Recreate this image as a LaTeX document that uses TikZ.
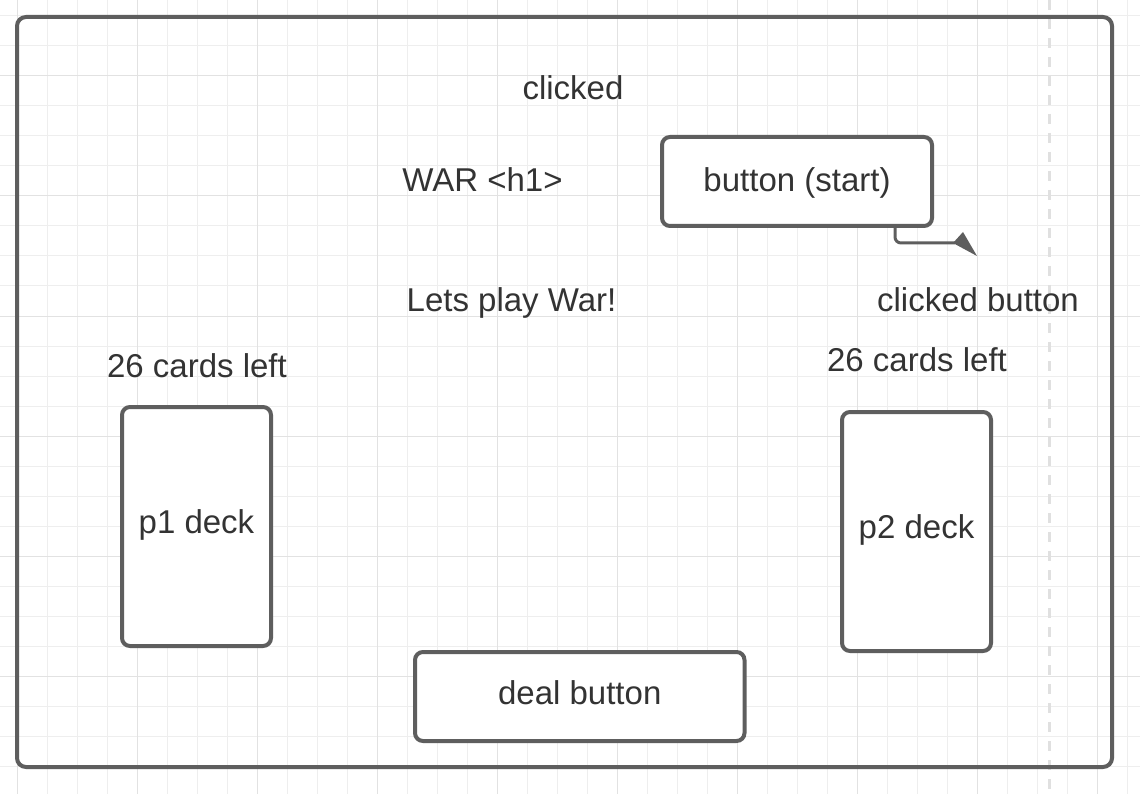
\documentclass[tikz,border=0pt]{standalone}
\usepackage{fontspec}
\setmainfont{Liberation Sans}
\definecolor{framec}{HTML}{5E5E5E}
\definecolor{txtc}{HTML}{333333}
\definecolor{gridminor}{HTML}{EEEEEE}
\definecolor{gridmajor}{HTML}{E2E2E2}
\definecolor{dashc}{HTML}{E0E0E0}
\begin{document}
\begin{tikzpicture}[x=1pt,y=-1pt,
  lbl/.style={anchor=base, text=txtc, font=\fontsize{33}{39}\selectfont, inner sep=0pt},
  uibox/.style={draw=framec, line width=4pt, rounded corners=8pt, fill=white, text=txtc,
    font=\fontsize{33}{39}\selectfont, inner sep=0pt, text height=25pt, text depth=5pt},
  conn/.style={draw=framec, line width=3pt, rounded corners=6pt}
]
\useasboundingbox (0,0) rectangle (1140,794);
\fill[white] (0,0) rectangle (1140,794);
% grid
\foreach \x in {17,47,...,1127} \draw[gridminor, line width=1pt] (\x,0) -- (\x,794);
\foreach \y in {16,46,...,796} \draw[gridminor, line width=1pt] (0,\y) -- (1140,\y);
\foreach \x in {17,137,...,1097} \draw[gridmajor, line width=1pt] (\x,0) -- (\x,794);
\foreach \y in {76,196,...,796} \draw[gridmajor, line width=1pt] (0,\y) -- (1140,\y);
% dashed guide
\draw[dashc, line width=3pt, dash pattern=on 10pt off 9pt] (1049,0) -- (1049,794);
% frame
\node[draw=framec, line width=4pt, rounded corners=9pt, minimum width=1095pt, minimum height=750pt, inner sep=0pt] (screen) at (564.5,392) {};
% boxes
\node[uibox, minimum width=270pt, minimum height=89pt] (btn) at (797,181.5) {button (start)};
\node[uibox, minimum width=329.5pt, minimum height=89pt] (deal) at (579.75,696.5) {\raisebox{2pt}{deal button}};
\node[uibox, minimum width=149pt, minimum height=239pt] (p1) at (196.5,526.5) {\raisebox{3pt}{p1 deck}};
\node[uibox, minimum width=149pt, minimum height=239pt] (p2) at (916.5,531.5) {\raisebox{3pt}{p2 deck}};
% labels
\node[lbl] (clicked) at (573,100) {clicked};
\node[lbl] (war) at (482.5,192) {WAR <h1>};
\node[lbl] (lets) at (511.5,312) {Lets play War!};
\node[lbl] (clkbtn) at (978,312) {clicked button};
\node[lbl] (c1) at (197,377) {26 cards left};
\node[lbl] (c2) at (917,371) {26 cards left};
% connector
\coordinate (clk) at (977,256);
\draw[conn] ([xshift=-39pt]btn.south east) |- (955,243);
\fill[framec] (963,232) -- (953,243) -- (clk) -- cycle;
\end{tikzpicture}
\end{document}
